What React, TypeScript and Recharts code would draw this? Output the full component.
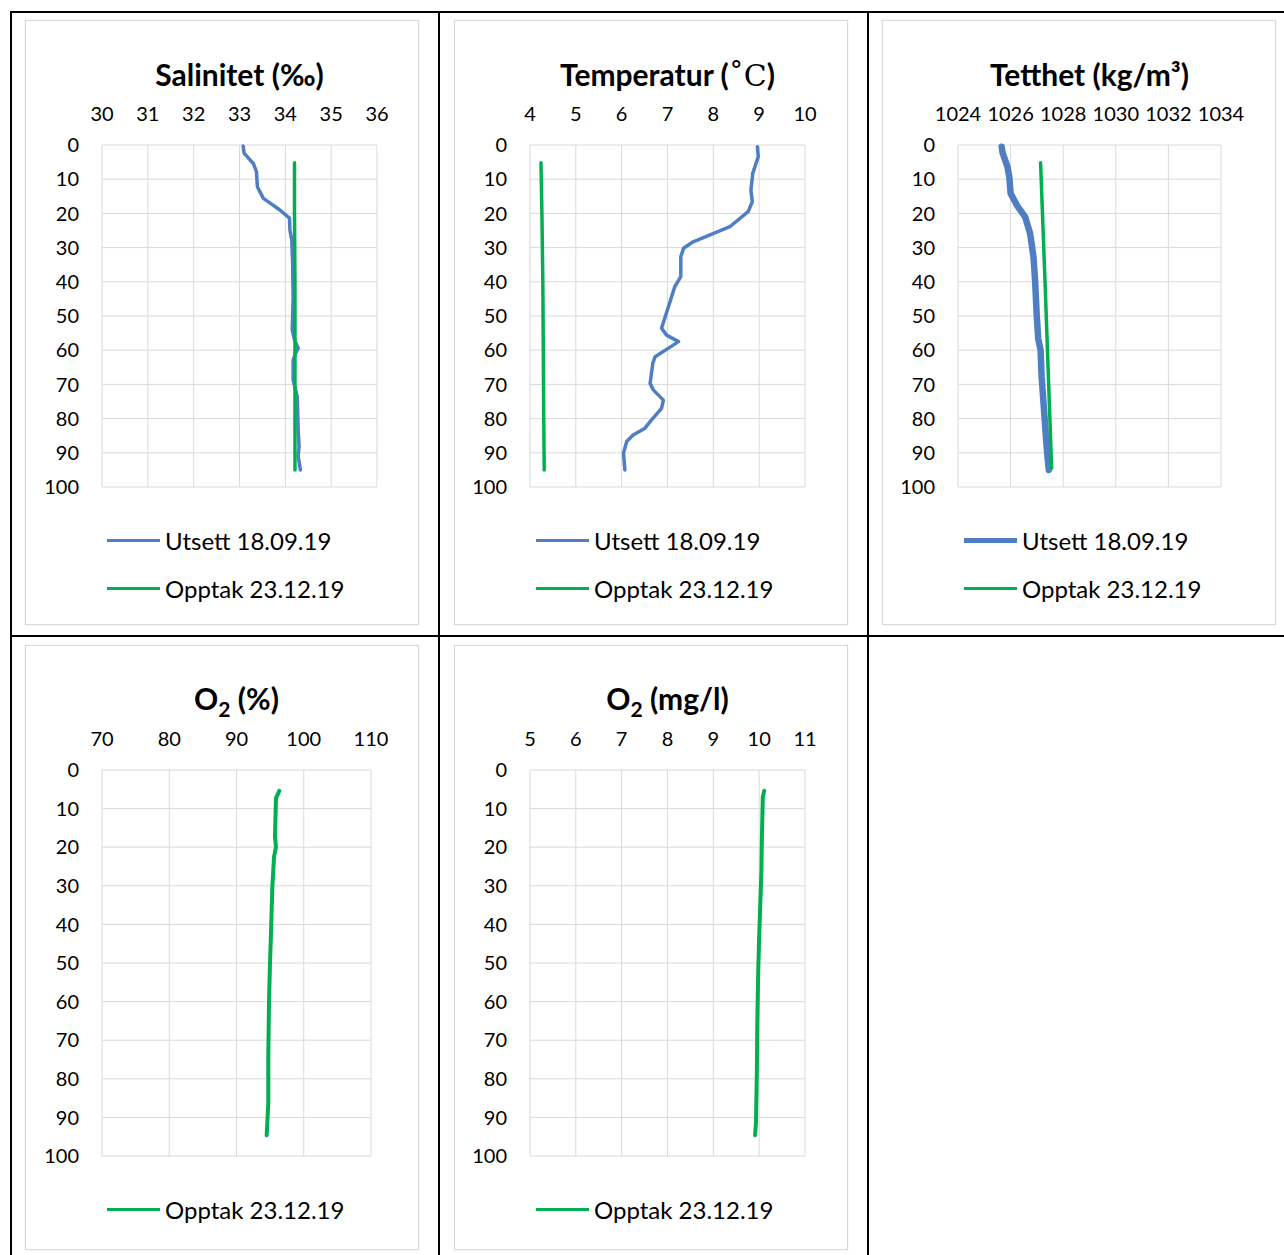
import React from 'react';
import { ScatterChart, Scatter, XAxis, YAxis, CartesianGrid } from 'recharts';

const salinityUtsett = [
  { depth: 0.3, value: 33.08 }, { depth: 2.4, value: 33.1 }, { depth: 5.4, value: 33.3 },
  { depth: 7.8, value: 33.37 }, { depth: 12.2, value: 33.39 }, { depth: 15.6, value: 33.52 },
  { depth: 17, value: 33.67 }, { depth: 19, value: 33.88 }, { depth: 21.4, value: 34.09 },
  { depth: 24.9, value: 34.1 }, { depth: 27.8, value: 34.14 }, { depth: 34.6, value: 34.16 },
  { depth: 44.4, value: 34.17 }, { depth: 50, value: 34.16 }, { depth: 54, value: 34.15 },
  { depth: 57, value: 34.2 }, { depth: 59.4, value: 34.28 }, { depth: 61, value: 34.22 },
  { depth: 62.9, value: 34.17 }, { depth: 68.7, value: 34.17 }, { depth: 73.6, value: 34.26 },
  { depth: 78, value: 34.27 }, { depth: 83.3, value: 34.28 }, { depth: 88.2, value: 34.3 },
  { depth: 91, value: 34.28 }, { depth: 95, value: 34.33 },
];
const salinityOpptak = [
  { depth: 5.2, value: 34.2 }, { depth: 20, value: 34.2 }, { depth: 40, value: 34.21 },
  { depth: 60, value: 34.21 }, { depth: 80, value: 34.21 }, { depth: 95, value: 34.21 },
];

const temperatureUtsett = [
  { depth: 0.5, value: 8.96 }, { depth: 3.4, value: 8.98 }, { depth: 8.3, value: 8.86 },
  { depth: 13.2, value: 8.82 }, { depth: 16.6, value: 8.85 }, { depth: 19.5, value: 8.76 },
  { depth: 23.9, value: 8.36 }, { depth: 26.3, value: 7.93 }, { depth: 28.3, value: 7.56 },
  { depth: 30.2, value: 7.35 }, { depth: 32.7, value: 7.29 }, { depth: 38.5, value: 7.29 },
  { depth: 41.4, value: 7.16 }, { depth: 47.3, value: 7.02 }, { depth: 53.6, value: 6.87 },
  { depth: 55.6, value: 6.98 }, { depth: 57.5, value: 7.24 }, { depth: 58.8, value: 7.09 },
  { depth: 61.9, value: 6.73 }, { depth: 63.8, value: 6.68 }, { depth: 69.7, value: 6.62 },
  { depth: 71.6, value: 6.69 }, { depth: 74.6, value: 6.91 }, { depth: 77, value: 6.87 },
  { depth: 80.9, value: 6.62 }, { depth: 82.8, value: 6.51 }, { depth: 84.8, value: 6.25 },
  { depth: 86.7, value: 6.11 }, { depth: 90.1, value: 6.04 }, { depth: 95, value: 6.07 },
];
const temperatureOpptak = [
  { depth: 5.2, value: 4.24 }, { depth: 20, value: 4.26 }, { depth: 40, value: 4.28 },
  { depth: 60, value: 4.29 }, { depth: 80, value: 4.3 }, { depth: 95, value: 4.31 },
];

const densityUtsett = [
  { depth: 0.5, value: 1025.66 }, { depth: 2.4, value: 1025.7 }, { depth: 6.3, value: 1025.88 },
  { depth: 9.3, value: 1025.95 }, { depth: 14.1, value: 1026.0 }, { depth: 17.5, value: 1026.23 },
  { depth: 21, value: 1026.55 }, { depth: 25.8, value: 1026.74 }, { depth: 32.7, value: 1026.87 },
  { depth: 39.5, value: 1026.93 }, { depth: 49.3, value: 1026.99 }, { depth: 56.6, value: 1027.05 },
  { depth: 60, value: 1027.14 }, { depth: 67.8, value: 1027.18 }, { depth: 78.5, value: 1027.28 },
  { depth: 88.2, value: 1027.37 }, { depth: 95, value: 1027.45 },
];
const densityOpptak = [
  { depth: 5.2, value: 1027.14 }, { depth: 44.4, value: 1027.33 }, { depth: 94.5, value: 1027.56 },
];

const oxygenPctOpptak = [
  { depth: 5.4, value: 96.37 }, { depth: 7.3, value: 95.87 }, { depth: 17.3, value: 95.72 },
  { depth: 19.9, value: 95.87 }, { depth: 22.5, value: 95.58 }, { depth: 30.2, value: 95.33 },
  { depth: 42.3, value: 95.13 }, { depth: 50.1, value: 94.98 }, { depth: 60.4, value: 94.83 },
  { depth: 73.4, value: 94.73 }, { depth: 86.3, value: 94.73 }, { depth: 94.6, value: 94.49 },
];
const oxygenMgOpptak = [
  { depth: 5.4, value: 10.11 }, { depth: 6.9, value: 10.08 }, { depth: 17.3, value: 10.06 },
  { depth: 25.9, value: 10.05 }, { depth: 43.2, value: 10.0 }, { depth: 51.8, value: 9.98 },
  { depth: 64.8, value: 9.96 }, { depth: 77.7, value: 9.95 }, { depth: 91.5, value: 9.93 },
  { depth: 94.6, value: 9.91 },
];

const depthTicks = [0, 10, 20, 30, 40, 50, 60, 70, 80, 90, 100];
const salinityTicks = [30, 31, 32, 33, 34, 35, 36];
const temperatureTicks = [4, 5, 6, 7, 8, 9, 10];
const densityTicks = [1024, 1026, 1028, 1030, 1032, 1034];
const oxygenPctTicks = [70, 80, 90, 100, 110];
const oxygenMgTicks = [5, 6, 7, 8, 9, 10, 11];

const UTSETT = 'Utsett 18.09.19';
const OPPTAK = 'Opptak 23.12.19';

const BLUE = '#4f7fc2';
const GREEN = '#00b050';
const FONT = 'Lato, "Open Sans", sans-serif';

type Series = { name: string; data: { depth: number; value: number }[]; color: string; width: number; legendWidth: number };
type Rect = { l: number; t: number; r: number; b: number };

const XH = 30;
const YW = 50;

const Panel = ({ box, plot, title, ticks, series, titleY, legendY }: {
  box: Rect; plot: Rect; title: React.ReactNode; ticks: number[]; series: Series[];
  titleY: number; legendY: number[];
}) => {
  const w = box.r - box.l;
  const h = box.b - box.t;
  const margin = {
    top: plot.t - box.t - XH,
    left: plot.l - box.l - YW,
    right: box.r - plot.r,
    bottom: box.b - plot.b,
  };
  const cx = (plot.l + plot.r) / 2;
  return (
    <>
      <div style={{ position: 'absolute', left: box.l, top: box.t, width: w, height: h, boxSizing: 'border-box', border: '1px solid #d9d9d9', boxShadow: '0 0 2px rgba(0,0,0,0.08)' }} />
      <div style={{ position: 'absolute', left: cx - 200, width: 400, top: titleY - 18, height: 36, lineHeight: '36px', textAlign: 'center', fontWeight: 700, fontSize: 30, color: '#000' }}>
        {title}
      </div>
      <div style={{ position: 'absolute', left: box.l, top: box.t }}>
        <ScatterChart width={w} height={h} margin={margin}>
          <CartesianGrid stroke="#d9d9d9" strokeWidth={1} horizontalValues={depthTicks} verticalValues={ticks} />
          <XAxis
            type="number"
            dataKey="value"
            orientation="top"
            domain={[ticks[0], ticks[ticks.length - 1]]}
            ticks={ticks}
            height={XH}
            axisLine={false}
            tickLine={false}
            tickSize={0}
            tickMargin={24}
            interval={0}
            allowDataOverflow
            tick={{ fill: '#000', fontSize: 20, fontFamily: FONT }}
          />
          <YAxis
            type="number"
            dataKey="depth"
            reversed
            domain={[0, 100]}
            ticks={depthTicks}
            width={YW}
            axisLine={false}
            tickLine={false}
            tickSize={0}
            tickMargin={23}
            interval={0}
            tick={{ fill: '#000', fontSize: 20, fontFamily: FONT }}
          />
          {series.map((s) => (
            <Scatter
              key={s.name}
              name={s.name}
              data={s.data}
              fill={s.color}
              line={{ stroke: s.color, strokeWidth: s.width, strokeLinecap: 'round', strokeLinejoin: 'round' }}
              shape={() => <g />}
              isAnimationActive={false}
            />
          ))}
        </ScatterChart>
      </div>
      {series.map((s, i) => (
        <div key={s.name} style={{ position: 'absolute', left: box.l + 82, top: legendY[i] - 16, height: 32, display: 'flex', alignItems: 'center', fontSize: 24, color: '#000', whiteSpace: 'nowrap' }}>
          <span style={{ display: 'inline-block', width: 53, height: s.legendWidth, background: s.color, marginRight: 5 }} />
          {s.name}
        </div>
      ))}
    </>
  );
};

const Line = ({ l, t, w, h }: { l: number; t: number; w: number; h: number }) => (
  <div style={{ position: 'absolute', left: l, top: t, width: w, height: h, background: '#000' }} />
);

export default function App() {
  const row1 = { t: 20, b: 625 };
  const row2 = { t: 645, b: 1250 };
  return (
    <div style={{ position: 'absolute', left: 0, top: 0, width: 1284, height: 1255, overflow: 'hidden', background: '#fff', fontFamily: FONT }}>
      <Line l={10} t={11} w={1274} h={2} />
      <Line l={10} t={635} w={1274} h={2} />
      <Line l={10} t={11} w={2} h={1244} />
      <Line l={438} t={11} w={2} h={1244} />
      <Line l={867} t={11} w={2} h={1244} />

      <Panel
        box={{ l: 25, r: 419, ...row1 }}
        plot={{ l: 102, r: 377, t: 145, b: 487 }}
        title="Salinitet (‰)"
        ticks={salinityTicks}
        titleY={74}
        legendY={[540, 588]}
        series={[
          { name: UTSETT, data: salinityUtsett, color: BLUE, width: 3.5, legendWidth: 3 },
          { name: OPPTAK, data: salinityOpptak, color: GREEN, width: 3.5, legendWidth: 3 },
        ]}
      />
      <Panel
        box={{ l: 454, r: 848, ...row1 }}
        plot={{ l: 530, r: 805, t: 145, b: 487 }}
        title={<>Temperatur (<span style={{ fontFamily: '"DejaVu Serif", serif', fontWeight: 400 }}>˚C</span>)</>}
        ticks={temperatureTicks}
        titleY={74}
        legendY={[540, 588]}
        series={[
          { name: UTSETT, data: temperatureUtsett, color: BLUE, width: 3.5, legendWidth: 3 },
          { name: OPPTAK, data: temperatureOpptak, color: GREEN, width: 3.5, legendWidth: 3 },
        ]}
      />
      <Panel
        box={{ l: 882, r: 1276, ...row1 }}
        plot={{ l: 958, r: 1221, t: 145, b: 487 }}
        title="Tetthet (kg/m³)"
        ticks={densityTicks}
        titleY={74}
        legendY={[540, 588]}
        series={[
          { name: UTSETT, data: densityUtsett, color: BLUE, width: 6.5, legendWidth: 5 },
          { name: OPPTAK, data: densityOpptak, color: GREEN, width: 3.5, legendWidth: 3 },
        ]}
      />
      <Panel
        box={{ l: 25, r: 419, ...row2 }}
        plot={{ l: 102, r: 371, t: 770, b: 1156 }}
        title={<>O<sub style={{ fontSize: '0.7em' }}>2</sub> (%)</>}
        ticks={oxygenPctTicks}
        titleY={698}
        legendY={[1209]}
        series={[{ name: OPPTAK, data: oxygenPctOpptak, color: GREEN, width: 4, legendWidth: 3 }]}
      />
      <Panel
        box={{ l: 454, r: 848, ...row2 }}
        plot={{ l: 530, r: 805, t: 770, b: 1156 }}
        title={<>O<sub style={{ fontSize: '0.7em' }}>2</sub> (mg/l)</>}
        ticks={oxygenMgTicks}
        titleY={698}
        legendY={[1209]}
        series={[{ name: OPPTAK, data: oxygenMgOpptak, color: GREEN, width: 4, legendWidth: 3 }]}
      />
    </div>
  );
}
